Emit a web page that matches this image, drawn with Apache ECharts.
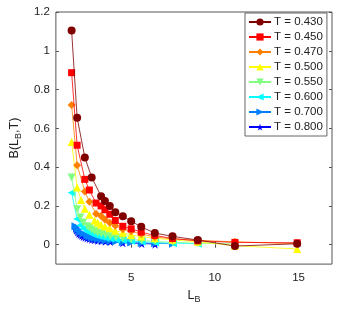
<!DOCTYPE html>
<html>
<head>
<meta charset="utf-8">
<script src="https://cdn.jsdelivr.net/npm/echarts@6/dist/echarts.min.js"></script>
<style>html,body{margin:0;padding:0;background:#fff}#c{width:338px;height:309px}</style>
</head>
<body>
<div id="c"></div>
<script>
var seriesNames = ['T = 0.430','T = 0.450','T = 0.470','T = 0.500','T = 0.550','T = 0.600','T = 0.700','T = 0.800'];
var colors = ['#800000','#ff0000','#ff8000','#ffff00','#80ff80','#00ffff','#0080ff','#0000ff'];

var x430 = [1.44,1.77,2.23,2.64,3.2,3.43,3.72,4.05,4.5,5.0,5.6,6.41,7.47,8.98,11.2,14.92];
var y430 = [1.105,0.655,0.45,0.347,0.25,0.226,0.2,0.168,0.147,0.121,0.092,0.06,0.043,0.024,-0.007,0.005];

var x450 = [1.44,1.77,2.23,2.5,2.9,3.2,3.43,3.72,4.05,4.5,5.0,5.6,6.41,7.47,8.98,11.2,14.92];
var y450 = [0.887,0.513,0.337,0.282,0.215,0.2,0.18,0.157,0.125,0.095,0.082,0.065,0.048,0.032,0.02,0.012,0.01];

var x470 = [1.44,1.77,2.23,2.5,2.9,3.2,3.43,3.72,4.05,4.5,5.0,5.6,6.41,7.47,8.98,11.2,14.92];
var y470 = [0.72,0.41,0.275,0.222,0.16,0.148,0.13,0.113,0.098,0.08,0.07,0.055,0.04,0.03,0.022,0.015,0.005];

var x500 = [1.44,1.77,2.0,2.23,2.5,2.81,3.0,3.2,3.43,3.72,4.05,4.5,5.0,5.6,6.41,7.47,8.98,11.2,14.92];
var y500 = [0.53,0.295,0.23,0.185,0.155,0.125,0.113,0.103,0.094,0.085,0.072,0.062,0.05,0.042,0.033,0.025,0.015,-0.005,-0.022];

var x550 = [1.44,1.77,1.96,2.14,2.37,2.5,2.65,2.81,3.0,3.21,3.46,3.75,4.09,4.5,5.0,5.63,6.43,7.5,8.98,11.2];
var y550 = [0.347,0.183,0.14,0.115,0.095,0.087,0.078,0.07,0.062,0.056,0.05,0.044,0.038,0.033,0.027,0.022,0.017,0.012,0.008,0.004];

var x600 = [1.44,1.77,1.96,2.14,2.37,2.5,2.65,2.81,3.0,3.21,3.46,3.75,4.09,4.5,5.0,5.63,6.43,7.5,8.98];
var y600 = [0.268,0.133,0.1,0.083,0.07,0.063,0.057,0.051,0.046,0.041,0.036,0.032,0.027,0.023,0.019,0.015,0.011,0.008,0.005];

var x700 = [1.67,1.8,1.96,2.14,2.37,2.5,2.65,2.81,3.0,3.21,3.46,3.75,4.09,4.5,5.0,5.63,6.43,7.5];
var y700 = [0.095,0.08,0.066,0.056,0.047,0.042,0.037,0.033,0.029,0.026,0.022,0.019,0.016,0.013,0.011,0.009,0.007,0.005];

var x800 = [1.67,1.73,1.8,1.88,1.96,2.05,2.14,2.25,2.37,2.5,2.65,2.81,3.0,3.21,3.46,3.75,4.5,5.63,6.43];
var y800 = [0.085,0.075,0.066,0.058,0.052,0.047,0.042,0.038,0.034,0.031,0.028,0.025,0.022,0.02,0.018,0.016,0.01,0.006,0.003];

var xTicks = [5,10,15];
var yTicks = [0,0.2,0.4,0.6,0.8,1,1.2];

var xs = [x430,x450,x470,x500,x550,x600,x700,x800];
var ys = [y430,y450,y470,y500,y550,y600,y700,y800];

var starPath = 'path://M50,0 L61,35 L98,35 L68,57 L79,91 L50,70 L21,91 L32,57 L2,35 L39,35 Z';
var symbols = ['circle','rect','diamond','triangle','triangle','triangle','triangle',starPath];
var rotates = [0,0,0,0,180,90,-90,0];
var sizes = [8,7,8,8,8,8,8,9];

function pairs(a,b){ return a.map(function(v,i){ return [v,b[i]]; }); }

var series = seriesNames.map(function(n,i){
  return {
    name: n, type: 'line', data: pairs(xs[i], ys[i]),
    symbol: symbols[i], symbolRotate: rotates[i], symbolSize: sizes[i],
    showAllSymbol: true,
    lineStyle: {color: colors[i], width: 0.8},
    itemStyle: {color: colors[i]},
    emphasis: {disabled: true},
    animation: false, z: 10 - i
  };
});

var axisCol = '#555';
var fontFam = 'Liberation Sans, Arial, sans-serif';

var chart = echarts.init(document.getElementById('c'), null, {renderer: 'canvas'});
chart.setOption({
  animation: false,
  grid: {left: 46, right: 6, top: 12, bottom: 43, show: true, borderColor: axisCol, borderWidth: 1, backgroundColor: '#fff'},
  legend: {
    data: seriesNames,
    orient: 'vertical', left: 245, top: 13, width: 81,
    backgroundColor: '#fff', borderColor: '#666', borderWidth: 1,
    padding: [3, 4, 3, 3], itemGap: 3, itemWidth: 22, itemHeight: 9,
    textStyle: {fontFamily: fontFam, fontSize: 11.5, color: '#222', padding: [0,0,0,-2]},
    selectedMode: false
  },
  xAxis: [{
    type: 'value', min: 0.5, max: 17, position: 'bottom',
    axisLine: {show: false},
    axisTick: {show: true, inside: true, length: 3, customValues: xTicks, lineStyle: {color: axisCol}},
    axisLabel: {customValues: xTicks, fontFamily: fontFam, fontSize: 11.5, color: '#222', margin: 8},
    splitLine: {show: false},
    name: '{m|L}{s|B}', nameLocation: 'middle', nameGap: 20,
    nameTextStyle: {rich: {m: {fontFamily: fontFam, fontSize: 12.5, color: '#222'}, s: {fontFamily: fontFam, fontSize: 9, color: '#222', verticalAlign: 'bottom', padding: [8,0,0,0]}}}
  },{
    type: 'value', min: 0.5, max: 17, position: 'top',
    axisLine: {show: false},
    axisTick: {show: true, inside: true, length: 3, customValues: xTicks, lineStyle: {color: axisCol}},
    axisLabel: {show: false}, splitLine: {show: false}
  }],
  yAxis: [{
    type: 'value', min: -0.1, max: 1.2, position: 'left',
    axisLine: {show: false},
    axisTick: {show: true, inside: true, length: 3, customValues: yTicks, lineStyle: {color: axisCol}},
    axisLabel: {customValues: yTicks, fontFamily: fontFam, fontSize: 11.5, color: '#222', margin: 6},
    splitLine: {show: false},
    name: '{m|B(L}{s|B}{m|,T)}', nameLocation: 'middle', nameGap: 28, nameRotate: 90,
    nameTextStyle: {rich: {m: {fontFamily: fontFam, fontSize: 12.5, color: '#222'}, s: {fontFamily: fontFam, fontSize: 9, color: '#222', padding: [8,0,0,0]}}}
  },{
    type: 'value', min: -0.1, max: 1.2, position: 'right',
    axisLine: {show: false},
    axisTick: {show: true, inside: true, length: 3, customValues: yTicks, lineStyle: {color: axisCol}},
    axisLabel: {show: false}, splitLine: {show: false}
  }],
  series: series
});
</script>
</body>
</html>
